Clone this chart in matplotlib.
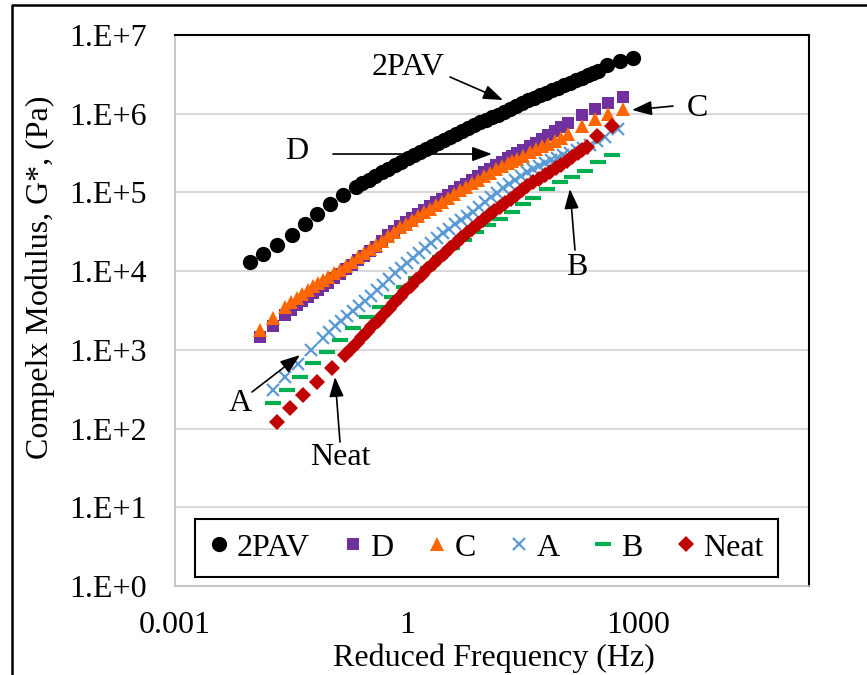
import matplotlib
matplotlib.use('Agg')
import matplotlib.pyplot as plt
from matplotlib.lines import Line2D
from matplotlib.ticker import NullLocator

plt.rcParams['font.family'] = 'Liberation Serif'
plt.rcParams['font.size'] = 23

# reduced frequency (Hz) and complex modulus G* (Pa)
freq_2pav = [0.00934, 0.01375, 0.02087, 0.03263, 0.04806, 0.06871, 0.1012, 0.1491,
             0.2196, 0.2665, 0.3233, 0.3925, 0.4764, 0.5781, 0.7017, 0.8514, 1.033,
             1.235, 1.477, 1.767, 2.112, 2.526, 3.020, 3.611, 4.317, 5.163, 6.171,
             7.379, 8.826, 10.55, 12.62, 15.09, 18.04, 21.57, 25.79, 30.83, 36.87,
             44.08, 52.71, 63.02, 75.37, 90.09, 107.7, 128.8, 154.0, 184.2, 220.2,
             255.6, 296.7, 387.9, 571.1, 841.4]
g_2pav = [1.29e4, 1.63e4, 2.18e4, 2.92e4, 3.92e4, 5.25e4, 7.04e4, 9.16e4, 1.16e5,
          1.302e5, 1.46e5, 1.622e5, 1.80e5, 1.991e5, 2.21e5, 2.443e5, 2.71e5,
          2.956e5, 3.23e5, 3.525e5, 3.85e5, 4.202e5, 4.59e5, 5.009e5, 5.47e5,
          5.971e5, 6.52e5, 7.117e5, 7.78e5, 8.365e5, 9.00e5, 9.683e5, 1.04e6,
          1.138e6, 1.24e6, 1.356e6, 1.48e6, 1.594e6, 1.71e6, 1.845e6, 1.99e6,
          2.136e6, 2.30e6, 2.473e6, 2.66e6, 2.862e6, 3.08e6, 3.266e6, 3.46e6,
          4.13e6, 4.64e6, 5.07e6]

freq_cd = [0.0126, 0.0185, 0.0265, 0.03167, 0.0379, 0.04461, 0.0526, 0.0610, 0.0708,
           0.08216, 0.0954, 0.1140, 0.136, 0.1631, 0.195, 0.2331, 0.279, 0.3332,
           0.398, 0.4764, 0.569, 0.6809, 0.814, 0.9736, 1.16, 1.392, 1.66, 1.990,
           2.38, 2.845, 3.40, 4.068, 4.86, 5.815, 6.95, 8.314, 9.94, 11.89, 14.2,
           16.99, 20.3, 23.24, 26.6, 32.24, 39.1, 46.79, 56.0, 67.88, 82.4, 100.0,
           121.4, 184.2, 271.3, 399.6, 624.6]
g_d = [1472, 2032, 2805, 3247, 3760, 4227, 4752, 5265, 5833, 6463, 7161, 8170, 9322,
       10630, 12140, 13840, 15800, 18020, 20560, 24150, 28380, 32370, 36930, 41530,
       46700, 52510, 59020, 66330, 74620, 82650, 91580, 102900, 115800, 128300,
       142100, 159800, 179700, 199100, 220600, 244300, 270700, 291300, 313500,
       347300, 384800, 426400, 472400, 531200, 597100, 671400, 755000, 954100,
       1.138e6, 1.356e6, 1.617e6]
g_c = [1807, 2569, 3545, 4045, 4615, 5188, 5833, 6463, 7161, 7819, 8540, 9458, 10480,
       11780, 13250, 15120, 17240, 19390, 21800, 24510, 27560, 31440, 35860, 39740,
       44040, 49520, 55660, 61680, 68320, 75700, 83870, 94320, 106000, 117500,
       130200, 144200, 159800, 177100, 196200, 214200, 233900, 248000, 262900,
       291300, 322800, 352500, 384800, 414000, 445600, 493600, 547000, 691300,
       848900, 982700, 1.138e6]

freq_a = [0.01853, 0.02649, 0.03902, 0.05746, 0.08216, 0.09822, 0.1174, 0.1404,
          0.1680, 0.2008, 0.2401, 0.2871, 0.3432, 0.4105, 0.4907, 0.5866, 0.7017,
          0.8389, 1.003, 1.199, 1.434, 1.715, 2.050, 2.451, 2.931, 3.504, 4.191,
          5.010, 5.992, 7.164, 8.565, 10.24, 12.25, 14.64, 17.51, 20.93, 25.03,
          29.93, 35.78, 42.80, 51.15, 61.15, 73.14, 87.5, 104.6, 128.8, 158.7,
          192.6, 233.7, 292.3, 365.3, 538.2]
g_a = [311.6, 456.0, 667.4, 1006, 1430, 1704, 2032, 2352, 2724, 3153, 3650, 4227,
       4894, 5748, 6753, 8050, 9598, 11110, 12870, 14890, 17240, 19970, 23110, 26380,
       30090, 34320, 39160, 44040, 49520, 56480, 64450, 74620, 86380, 98540, 112400,
       126400, 142100, 159800, 179700, 196200, 214200, 233900, 255400, 274800,
       295600, 318200, 342200, 368400, 396300, 445600, 500900, 633200]

freq_b = [0.01853, 0.02811, 0.04141, 0.06100, 0.09256, 0.1363, 0.2008, 0.3047,
          0.4487, 0.6416, 0.9173, 1.311, 1.875, 2.681, 3.832, 5.479, 7.833, 11.20,
          16.01, 22.89, 31.76, 42.80, 64.91, 95.64, 136.7, 201.4, 296.7, 450.1]
g_b = [212.9, 311.6, 456.0, 687.3, 948.6, 1349, 1916, 2645, 3545, 4752, 6370,
       8290, 11110, 15340, 19970, 25230, 30980, 38040, 45340, 55660, 70440, 83870,
       109200, 134100, 155200, 185000, 240800, 295600]

freq_neat = [0.02087, 0.03074, 0.04528, 0.06871, 0.1074, 0.1582, 0.1891, 0.2262,
             0.2625, 0.3047, 0.3589, 0.4228, 0.4981, 0.5866, 0.6913, 0.8141, 0.9592,
             1.130, 1.331, 1.568, 1.847, 2.176, 2.563, 3.020, 3.611, 4.317, 5.087,
             5.992, 7.058, 8.314, 9.793, 11.54, 13.59, 16.01, 18.86, 22.22, 26.17,
             30.83, 36.32, 42.80, 51.15, 61.15, 72.07, 84.86, 100.0, 117.8, 138.8,
             163.5, 186.9, 213.8, 287.9, 450.1]
g_neat = [122.0, 183.9, 269.2, 393.9, 593.5, 868.7, 1036, 1235, 1451, 1704, 2002,
          2352, 2805, 3344, 3986, 4752, 5582, 6558, 7705, 9052, 10630, 12500, 14460,
          16750, 19670, 23110, 26380, 30090, 34320, 39160, 44680, 50970, 57330, 64450,
          72460, 81450, 92950, 106000, 119200, 134100, 148500, 164500, 182300, 202000,
          223800, 248000, 278800, 313500, 342200, 373700, 515800, 691300]

x_ticks = [0.001, 1, 1000]
x_tick_labels = ['0.001', '1', '1000']
y_ticks = [1e0, 1e1, 1e2, 1e3, 1e4, 1e5, 1e6, 1e7]
y_tick_labels = ['1.E+0', '1.E+1', '1.E+2', '1.E+3', '1.E+4', '1.E+5', '1.E+6', '1.E+7']

fig = plt.figure(figsize=(8.67, 6.75), dpi=100)
ax = fig.add_axes([0.2018, 0.1319, 0.7313, 0.8162])

ax.plot(freq_2pav, g_2pav, 'o', color='black', ms=11, mew=0, label='2PAV', zorder=3)
ax.plot(freq_cd, g_d, 's', color='#7030A0', ms=8.5, mew=0, label='D', zorder=3)
ax.plot(freq_cd, g_c, '^', color='#FF6600', ms=10.5, mew=0, label='C', zorder=3)
ax.plot(freq_a, g_a, 'x', color='#5B9BD5', ms=8.5, mew=1.6, label='A', zorder=3)
ax.plot(freq_b, g_b, '_', color='#00B050', ms=11, mew=3, label='B', zorder=3)
ax.plot(freq_neat, g_neat, 'D', color='#C00000', ms=8, mew=0, label='Neat', zorder=3)

ax.set_xscale('log')
ax.set_yscale('log')
ax.set_xlim(1e-3, 1.6e5)
ax.set_ylim(1, 1e7)
ax.set_xticks(x_ticks)
ax.set_xticklabels(x_tick_labels)
ax.set_yticks(y_ticks)
ax.set_yticklabels(y_tick_labels)
ax.xaxis.set_minor_locator(NullLocator())
ax.yaxis.set_minor_locator(NullLocator())
ax.tick_params(axis='x', length=0, pad=18)
ax.tick_params(axis='y', length=0, pad=20)

ax.yaxis.grid(True, color='#d9d9d9', lw=1.5)
ax.set_axisbelow(True)
for side in ['top', 'right']:
    ax.spines[side].set_color('black')
    ax.spines[side].set_linewidth(1.5)
for side in ['left', 'bottom']:
    ax.spines[side].set_color('#bfbfbf')
    ax.spines[side].set_linewidth(1.2)

leg = ax.legend(loc='lower left', bbox_to_anchor=(0.0315, 0.0163, 0.9196, 0.118),
                mode='expand', ncol=6, fancybox=False, edgecolor='black',
                framealpha=1, borderaxespad=0, handlelength=0.6, handletextpad=0.25,
                columnspacing=0.5, borderpad=0.45)
leg.get_frame().set_linewidth(1.5)

# annotations (axes fraction)
arrow = dict(arrowstyle='-|>,head_length=0.6,head_width=0.22', mutation_scale=20,
             lw=1.2, color='black', shrinkA=0, shrinkB=0)
notes = [
    ('2PAV', (0.3675, 0.9419), (0.4338, 0.9238), (0.5174, 0.8820)),
    ('D', (0.1924, 0.7877), (0.2492, 0.7840), (0.5000, 0.7840)),
    ('C', (0.8233, 0.8675), (0.7855, 0.8711), (0.7208, 0.8639)),
    ('B', (0.6341, 0.5789), (0.6309, 0.6098), (0.6230, 0.7205)),
    ('A', (0.1025, 0.3321), (0.1215, 0.3521), (0.1972, 0.4192)),
    ('Neat', (0.2603, 0.2323), (0.2603, 0.2613), (0.2524, 0.3793)),
]
for label, txt, tail, tip in notes:
    ax.text(txt[0], txt[1], label, transform=ax.transAxes, ha='center', va='center')
    ax.annotate('', xy=tip, xytext=tail, xycoords='axes fraction',
                textcoords='axes fraction', arrowprops=arrow, zorder=4)

fig.text(40 / 867, 0.589, 'Compelx Modulus, G*, (Pa)', rotation=90,
         ha='center', va='center')
fig.text(494 / 867, 0.0252, 'Reduced Frequency (Hz)', ha='center', va='center')

# outer chart border
fig.add_artist(Line2D([0.0138, 0.0138, 1.0], [0, 0.9926, 0.9926],
                      transform=fig.transFigure, color='black', lw=1.8))

fig.savefig('out.png', dpi=100)
